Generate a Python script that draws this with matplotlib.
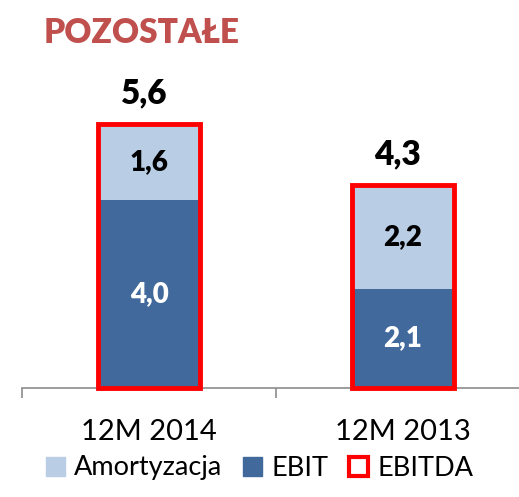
import matplotlib
matplotlib.use("Agg")
import matplotlib.pyplot as plt
from matplotlib.patches import Patch, Rectangle

categories = ["12M 2014", "12M 2013"]
ebit = [4.0, 2.1]
amort = [1.6, 2.2]
ebitda = [5.6, 4.3]
ebit_labels = ["4,0", "2,1"]
amort_labels = ["1,6", "2,2"]
ebitda_labels = ["5,6", "4,3"]
title = "POZOSTAŁE"

plt.rcParams['font.family'] = ['Lato', 'DejaVu Sans']

W, H = 519, 497
fig = plt.figure(figsize=(W/100, H/100), dpi=100)
fig.patch.set_facecolor("white")

ax_left = 22 / W
ax_bottom = 1 - 388 / H
px_per_unit = 47.1
ymax = 7.0
ax = fig.add_axes([ax_left, ax_bottom, 508 / W, ymax * px_per_unit / H])
ax.set_xlim(-0.5, 1.5)
ax.set_ylim(0, ymax)

dark = "#41699C"
light = "#B9CDE5"
red = "#FF0000"
bw = 0.40
x = list(range(len(categories)))

ax.bar(x, ebit, width=bw, color=dark, zorder=2)
ax.bar(x, amort, bottom=ebit, width=bw, color=light, zorder=2)
for xi, tot in zip(x, ebitda):
    ax.add_patch(Rectangle((xi - bw / 2, 0), bw, tot, fill=False, edgecolor=red,
                           linewidth=3.5, zorder=3, clip_on=False, joinstyle="miter"))

for xi, e, a, el, al, tl, tot in zip(x, ebit, amort, ebit_labels, amort_labels, ebitda_labels, ebitda):
    ax.text(xi, e / 2, el, ha="center", va="center", color="white", fontsize=20, fontweight="heavy", zorder=4)
    ax.text(xi, e + a / 2, al, ha="center", va="center", color="black", fontsize=20, fontweight="heavy", zorder=4)
    ax.annotate(tl, (xi - 0.02, tot), xytext=(0, 11), textcoords="offset points",
                ha="center", va="bottom", fontsize=24, fontweight="heavy", color="black")

for s in ["top", "right", "left"]:
    ax.spines[s].set_visible(False)
ax.spines["bottom"].set_color("#8C8C8C")
ax.spines["bottom"].set_linewidth(1.2)
ax.set_yticks([])
ax.set_xticks([-0.5, 0.5, 1.5], minor=False)
ax.set_xticklabels(["", "", ""])
ax.tick_params(axis="x", length=7, color="#8C8C8C", width=1.2)
ax.set_xticks(x, minor=True)
ax.set_xticklabels(categories, minor=True, fontsize=21)
ax.tick_params(axis="x", which="minor", length=0, pad=22)

fig.text(44 / W, 1 - 33 / H, title, ha="left", va="center", fontsize=24,
         fontweight="heavy", color="#C0504D")

handles = [Patch(facecolor=light, edgecolor=light),
           Patch(facecolor=dark, edgecolor=dark),
           Patch(facecolor="white", edgecolor=red, linewidth=3)]
fig.legend(handles, ["Amortyzacja", "EBIT", "EBITDA"], loc="center",
           bbox_to_anchor=(0.5, 1 - 468 / H), ncol=3, frameon=False, fontsize=19.5,
           handlelength=0.7, handleheight=0.7, handletextpad=0.35, columnspacing=0.75)

fig.savefig("out.png", dpi=100)
